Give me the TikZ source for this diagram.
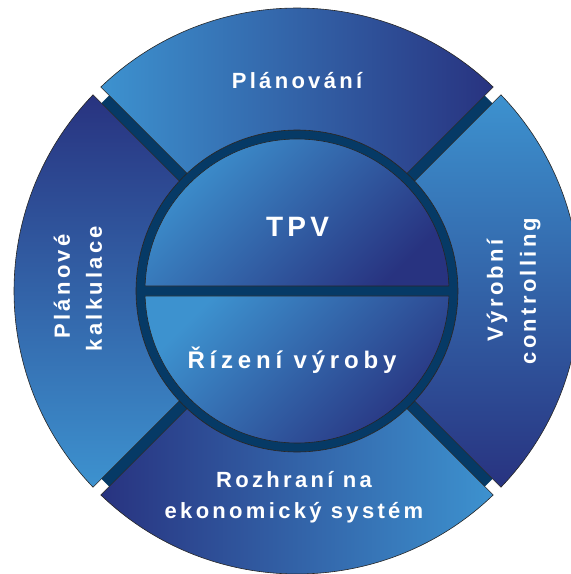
\documentclass[tikz,border=0pt]{standalone}
\usepackage{fontspec}
\newfontfamily\lblfont[LetterSpace=15]{Liberation Sans}
\newfontfamily\midfont[LetterSpace=20]{Liberation Sans}
\definecolor{lightblue}{RGB}{61,146,207}
\definecolor{darkblue}{RGB}{40,51,128}
\definecolor{bandblue}{RGB}{6,58,102}
\tikzset{segment/.style={draw=black!85, line width=0.6pt, top color=darkblue, bottom color=lightblue}}
\tikzset{half/.style={draw=black!85, line width=0.6pt, top color=lightblue, bottom color=darkblue, shading angle=45}}
\tikzset{seglabel/.style={text=white, anchor=base, inner sep=0pt, font=\lblfont\bfseries\fontsize{22}{26}\selectfont}}

\begin{document}
\begin{tikzpicture}[x=1pt,y=1pt]
\useasboundingbox (-297,-283) rectangle (274,291);
\clip (-297,-283) rectangle (274,291);

\fill[bandblue,rotate=45] (-271,-5.5) rectangle (271,5.5);
\fill[bandblue,rotate=-45] (-271,-5.5) rectangle (271,5.5);
\filldraw[fill=bandblue,draw=black!85,line width=0.6pt] (0,0) circle[radius=161];

\foreach \a in {90,0,270,180}{
\path[segment,shading angle=\a-180]
(\a-43.886:283) arc[start angle=\a-43.886, end angle=\a+43.886, radius=283]
-- (\a+43.04:161) arc[start angle=\a+43.04, end angle=\a-43.04, radius=161] -- cycle;
}

\path[half] (1.885:152) arc[start angle=1.885, end angle=178.115, radius=152] -- cycle;
\path[half] (-1.885:152) arc[start angle=-1.885, end angle=-178.115, radius=152] -- cycle;

\node[seglabel] (plan) at (0,203) {Plánování};
\node[seglabel,rotate=90] (kalkA) at (-227,4.5) {Plánové};
\node[seglabel,rotate=90] (kalkB) at (-195,2.5) {kalkulace};
\node[seglabel,rotate=90] (vyrA) at (206,0.5) {Výrobní};
\node[seglabel,rotate=90] (vyrB) at (239,0) {controlling};
\node[seglabel] (rozhA) at (-3,-196) {Rozhraní na};
\node[seglabel] (rozhB) at (-3,-227) {ekonomický systém};
\node[seglabel,font=\lblfont\bfseries\fontsize{28}{32}\selectfont] (tpv) at (0.5,54.3) {TPV};
\node[seglabel,font=\midfont\bfseries\fontsize{24}{28}\selectfont] (rizeni) at (-5,-77) {Řízení výroby};
\end{tikzpicture}
\end{document}
